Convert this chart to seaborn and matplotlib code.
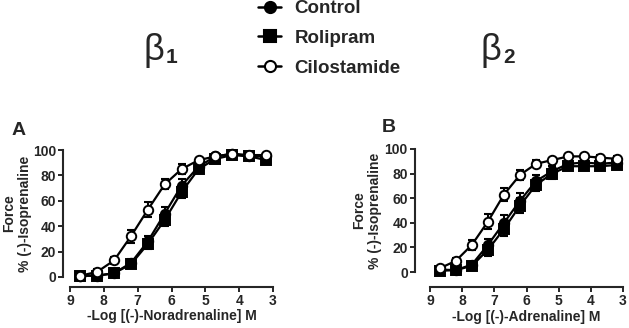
import numpy as np
import pandas as pd
import matplotlib
matplotlib.use("Agg")
import matplotlib.pyplot as plt
from matplotlib.lines import Line2D
import seaborn as sns

# ---- data ----
log_conc = [8.7, 8.2, 7.7, 7.2, 6.7, 6.2, 5.7, 5.2, 4.7, 4.2, 3.7, 3.2]

A_control = [1, 1, 3, 11, 28, 50, 72, 87, 95, 97, 95, 95]
A_control_err = [1, 1, 1, 3, 4, 5, 5, 3, 2, 2, 2, 2]
A_rolipram = [1, 1, 3, 10, 26, 45, 67, 85, 93, 96, 95, 92]
A_rolipram_err = [1, 1, 1, 3, 4, 5, 5, 3, 2, 2, 2, 2]
A_cilostamide = [1, 4, 13, 32, 53, 73, 85, 92, 95, 97, 96, 96]
A_cilostamide_err = [1, 2, 3, 5, 6, 4, 4, 2, 2, 1, 1, 1]

B_control = [2, 1.5, 6, 22, 40, 58, 74, 82, 88, 89, 88, 89]
B_control_err = [1, 1, 2, 5, 6, 6, 5, 4, 3, 3, 3, 3]
B_rolipram = [1, 1.5, 5, 18, 35, 54, 71, 80, 86, 86, 86, 87]
B_rolipram_err = [1, 1, 2, 5, 6, 6, 5, 4, 3, 3, 3, 3]
B_cilostamide = [3, 9, 22, 41, 63, 79, 88, 91, 94, 94, 93, 92]
B_cilostamide_err = [1, 2, 4, 6, 5, 4, 3, 2, 2, 2, 2, 2]

series_names = ["Control", "Rolipram", "Cilostamide"]
x_ticks = [9, 8, 7, 6, 5, 4, 3]
y_ticks = [0, 20, 40, 60, 80, 100]

sns.set_style("ticks")
plt.rcParams["font.family"] = ["Liberation Sans", "DejaVu Sans"]
plt.rcParams["font.weight"] = "bold"

fig = plt.figure(figsize=(6.29, 3.28), dpi=100)
axA = fig.add_axes([70/629, 1-277/328, 203/629, 127/328])
axB = fig.add_axes([430/629, 1-272/328, 193/629, 123/328])

styles = {
    "Control": dict(marker="o", mfc="black"),
    "Rolipram": dict(marker="s", mfc="black"),
    "Cilostamide": dict(marker="o", mfc="white"),
}

def draw(ax, vals, errs, xlabel, offsets, ylab_x):
    for name, v, e in zip(series_names, vals, errs):
        df = pd.DataFrame({"x": log_conc, "y": v})
        st = styles[name]
        ax.errorbar(log_conc, v, yerr=e, fmt="none", ecolor="black",
                    elinewidth=1.5, capsize=3, capthick=1.5, clip_on=False, zorder=2)
        sns.lineplot(data=df, x="x", y="y", ax=ax, color="black", lw=1.6,
                     marker=st["marker"], markersize=6.8, markerfacecolor=st["mfc"],
                     markeredgecolor="black", markeredgewidth=1.4, clip_on=False,
                     zorder=3, legend=False)
    ax.set_xlim(9, 3)
    ax.set_ylim(0, 100)
    ax.set_xticks(x_ticks)
    ax.set_yticks(y_ticks)
    ax.set_xlabel(xlabel, fontsize=10, fontweight="bold", labelpad=1)
    ax.set_ylabel("Force\n% (-)-Isoprenaline", fontsize=10, fontweight="bold",
                  linespacing=1.2)
    ax.yaxis.set_label_coords(ylab_x, 0.5)
    ax.tick_params(labelsize=10, width=1.4, length=3.5, pad=1.5)
    for lab in ax.get_xticklabels() + ax.get_yticklabels():
        lab.set_fontweight("bold")
    for s in ax.spines.values():
        s.set_linewidth(1.5)
    sns.despine(ax=ax, offset={"left": offsets[0], "bottom": offsets[1]})

draw(axA, [A_control, A_rolipram, A_cilostamide],
     [A_control_err, A_rolipram_err, A_cilostamide_err],
     "-Log [(-)-Noradrenaline] M", (5, 7), (32 - 70) / 203)
draw(axB, [B_control, B_rolipram, B_cilostamide],
     [B_control_err, B_rolipram_err, B_cilostamide_err],
     "-Log [(-)-Adrenaline] M", (11, 11), (382 - 430) / 193)

# panel letters
fig.text(12/629, 1-135/328, "A", fontsize=14, fontweight="bold", ha="left", va="baseline")
fig.text(382/629, 1-132/328, "B", fontsize=14, fontweight="bold", ha="left", va="baseline")

# beta titles
fig.text(144/629, 1-60/328, "β", fontsize=26, fontweight="normal", ha="left", va="baseline")
fig.text(166/629, 1-63/328, "1", fontsize=15, fontweight="bold", ha="left", va="baseline")
fig.text(481/629, 1-60/328, "β", fontsize=26, fontweight="normal", ha="left", va="baseline")
fig.text(503/629, 1-63/328, "2", fontsize=15, fontweight="bold", ha="left", va="baseline")

# legend
handles = [Line2D([], [], color="black", lw=1.8, marker=styles[n]["marker"],
                  markersize=8, markerfacecolor=styles[n]["mfc"],
                  markeredgecolor="black", markeredgewidth=1.5) for n in series_names]
fig.legend(handles, series_names, loc="upper left", bbox_to_anchor=(258/629, 1.0),
           frameon=False, prop={"size": 13.5, "weight": "bold"}, handlelength=1.25,
           handletextpad=0.7, labelspacing=0.68, borderpad=0, borderaxespad=0)

fig.savefig("out.png", dpi=100)
